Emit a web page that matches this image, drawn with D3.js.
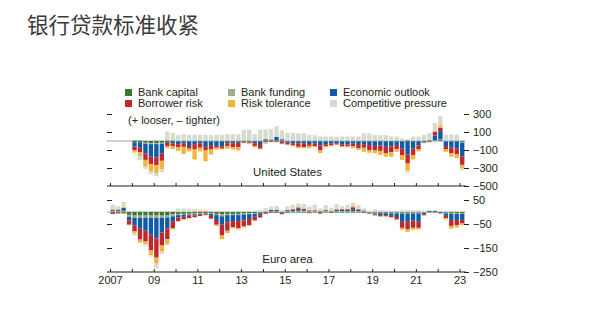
<!DOCTYPE html>
<html><head><meta charset="utf-8">
<script src="https://cdn.jsdelivr.net/npm/d3@7"></script>
<style>
html,body{margin:0;padding:0;background:#fff;}
svg{display:block;font-family:"Liberation Sans",Arial,sans-serif;}
</style></head><body><svg id="c" width="600" height="328"></svg>
<script>
const quarters = ["2007Q1","2007Q2","2007Q3","2007Q4","2008Q1","2008Q2","2008Q3","2008Q4","2009Q1","2009Q2","2009Q3","2009Q4",
"2010Q1","2010Q2","2010Q3","2010Q4","2011Q1","2011Q2","2011Q3","2011Q4","2012Q1","2012Q2","2012Q3","2012Q4",
"2013Q1","2013Q2","2013Q3","2013Q4","2014Q1","2014Q2","2014Q3","2014Q4","2015Q1","2015Q2","2015Q3","2015Q4",
"2016Q1","2016Q2","2016Q3","2016Q4","2017Q1","2017Q2","2017Q3","2017Q4","2018Q1","2018Q2","2018Q3","2018Q4",
"2019Q1","2019Q2","2019Q3","2019Q4","2020Q1","2020Q2","2020Q3","2020Q4","2021Q1","2021Q2","2021Q3","2021Q4",
"2022Q1","2022Q2","2022Q3","2022Q4","2023Q1"];

const seriesNames = ["Bank capital","Bank funding","Economic outlook","Borrower risk","Risk tolerance","Competitive pressure"];
const seriesColors = ["#3f7534","#9cae8c","#0d5caa","#c2262e","#f4b43a","#d7dad0"];

// United States (index 0..64, null = no data)
const usBankCapital = [null,null,null,null,-15,-15,-20,-25,-25,-20,-10,-10,-5,-5,-5,-5,-5,-5,-5,-5,-5,-5,-5,-5,-5,-5,-5,-5,-5,-5,-5,-5,-5,-5,-5,-5,-5,-5,-5,-5,-5,-5,-5,-5,-5,-5,-5,-5,-5,-5,-5,-5,-5,-5,-10,-5,-5,-5,-5,5,10,-5,-5,-5,-10];
const usBankFunding = [null,null,null,null,10,10,-10,-10,-10,-10,10,10,5,5,5,5,5,5,5,5,5,5,5,5,5,5,5,5,5,5,5,5,5,5,5,5,5,5,5,5,5,5,5,5,5,5,5,5,5,5,5,5,5,5,15,5,5,5,5,5,10,5,5,5,-10];
const usEconomicOutlook = [null,null,null,null,-45,-60,-110,-140,-150,-110,-10,-20,-30,-20,-50,-30,-20,-60,-40,-50,-55,-20,-20,-15,-5,-10,-20,-40,15,10,40,15,-15,-20,-25,-20,-30,-25,-45,-30,-25,-20,-30,-35,-25,-40,-30,-40,-50,-45,-60,-55,-40,-80,-140,-80,-45,-10,5,50,90,-50,-70,-80,-150];
const usBorrowerRisk = [null,null,null,null,-40,-50,-70,-80,-85,-80,-35,-30,-35,-40,-30,-60,-50,-40,-50,-20,-25,-30,-45,-50,-10,-10,-30,-40,-10,-5,-5,-25,-20,-25,-35,-45,-20,-30,-55,-25,-20,-15,-25,-20,-30,-35,-40,-55,-50,-60,-70,-65,-45,-75,-100,-70,-40,-5,-5,40,35,-40,-60,-60,-95];
const usRiskTolerance = [null,null,null,null,-25,-45,-70,-85,-90,-95,-25,-30,-40,-80,-30,-110,-40,-120,-55,-20,-10,-30,-25,-35,-5,-10,-15,-10,-15,10,-5,-5,-5,-10,-15,-10,-25,-10,-30,-10,-10,-5,-10,-10,-20,-20,-45,-30,-30,-45,-40,-50,-30,-50,-80,-50,-25,-5,-5,10,30,-25,-40,-45,-35];
const usCompetitivePressure = [null,null,null,null,-15,-40,-30,-30,-30,-30,95,80,60,70,60,65,65,65,60,65,65,70,70,70,120,120,70,120,110,110,120,100,85,85,80,80,60,60,45,45,45,45,45,45,45,45,80,80,60,60,60,45,45,25,-20,45,45,65,80,90,100,65,65,65,-25];

// Euro area
const euBankCapital = [-3,-3,-3,-12,-15,-15,-15,-15,-15,-15,-15,-10,-8,-8,-7,-6,-5,-5,-5,-8,-10,-8,-8,-8,-6,-5,-5,-3,-2,-2,-2,-2,-2,-2,-2,-2,-2,-2,-2,-2,-2,-2,-2,-2,-2,-2,-2,-2,-3,-3,-3,-3,-3,-3,-3,-3,-3,-2,-1,-1,-1,-3,-4,-4,-4];
const euBankFunding = [5,5,5,-8,-10,-10,-8,-10,-10,-10,-8,-8,-5,-4,-3,-3,-2,-2,-3,-5,-8,-5,-5,-5,-4,-4,-3,-2,2,3,3,2,4,4,5,5,4,4,3,4,3,4,4,4,4,4,3,-2,-3,-2,-2,-3,-3,-3,-3,-3,-3,-2,1,1,1,-3,-4,-4,-4];
const euEconomicOutlook = [5,5,12,-15,-30,-45,-55,-70,-85,-60,-45,-20,-10,-8,-5,-5,-4,-2,-8,-20,-35,-30,-25,-25,-25,-20,-12,-8,-3,6,6,-3,4,5,8,3,3,2,2,3,-2,5,5,6,8,6,3,-2,-5,-8,-8,-10,-15,-35,-35,-30,-35,-6,4,4,-3,-10,-25,-25,-25];
const euBorrowerRisk = [-5,-3,-3,-18,-25,-45,-45,-65,-80,-55,-45,-30,-15,-10,-10,-8,-6,-4,-12,-20,-45,-35,-25,-30,-25,-25,-15,-10,-3,-2,-2,-4,-2,3,6,5,-3,2,-5,2,2,2,3,2,8,2,-2,-2,-3,-5,-5,-6,-10,-25,-30,-30,-25,-4,-1,-1,-2,-10,-25,-22,-15];
const euRiskTolerance = [3,3,5,-2,-8,-10,-12,-20,-25,-25,-20,-5,-2,-2,-2,3,3,5,-2,-5,-15,-10,-5,-5,-5,-4,-3,-1,2,2,2,-2,2,2,2,2,2,2,-2,2,1,2,2,2,4,2,1,1,2,-2,-1,-2,-3,-8,-12,-8,-6,-1,1,0,1,-5,-12,-10,-7];
const euCompetitivePressure = [18,12,20,0,-10,-5,-5,-5,-20,-10,-5,0,15,15,14,10,8,5,0,0,0,0,0,0,0,0,0,8,12,12,14,5,14,16,14,18,14,20,10,18,12,20,10,16,14,14,8,2,10,8,7,0,5,8,8,8,8,5,3,2,2,5,5,5,4];

const usTicks = [300, 100, -100, -300, -500];
const euTicks = [50, -50, -150, -250];
const yearTicks = [2007,2008,2009,2010,2011,2012,2013,2014,2015,2016,2017,2018,2019,2020,2021,2022,2023];
const yearLabels = ["2007","09","11","13","15","17","19","21","23"];
const yearLabelValues = [2007,2009,2011,2013,2015,2017,2019,2021,2023];

const keys = ["cap","fund","outl","borr","tol","comp"];
const svg = d3.select("#c");
const ink = "#231f20";

function qTime(q){ return +q.slice(0,4) + (+q.slice(5)-1)/4; }

const x = d3.scaleLinear().domain([2007, 2023.25]).range([110, 465]);

// Title
svg.append("text").attr("x", 27).attr("y", 33)
  .attr("font-family", "'Noto Sans CJK SC', sans-serif").attr("font-size", 21.5)
  .attr("fill", "#3a3a3a").text("银行贷款标准收紧");

// Legend
const legendLayout = [
  {i:0, col:0, row:0},{i:1, col:1, row:0},{i:2, col:2, row:0},
  {i:3, col:0, row:1},{i:4, col:1, row:1},{i:5, col:2, row:1}];
const colX = [125, 228, 330];
const rowY = [89, 100];
const lg = svg.append("g");
legendLayout.forEach(d => {
  lg.append("rect").attr("x", colX[d.col]).attr("y", rowY[d.row]).attr("width", 7).attr("height", 7)
    .attr("fill", seriesColors[d.i]);
  lg.append("text").attr("x", colX[d.col] + 13).attr("y", rowY[d.row] + 6.8)
    .attr("font-size", 11).attr("fill", ink).text(seriesNames[d.i]);
});

function panel(opts){
  const {data, yDomain, yRange, ticks} = opts;
  const y = d3.scaleLinear().domain(yDomain).range(yRange);
  const g = svg.append("g");
  // zero line
  g.append("line").attr("x1", 107).attr("x2", 465).attr("y1", y(0)).attr("y2", y(0))
    .attr("stroke", "#8a8a8a").attr("stroke-width", 0.8);
  const stack = d3.stack().keys(keys).offset(d3.stackOffsetDiverging);
  const series = stack(data);
  series.forEach((s, si) => {
    g.append("g").attr("fill", seriesColors[si]).selectAll("rect").data(s).join("rect")
      .attr("x", d => x(d.data.t) + 0.5)
      .attr("width", d => x(d.data.t + 0.25) - x(d.data.t) - 1.1)
      .attr("y", d => y(Math.max(d[0], d[1])))
      .attr("height", d => Math.abs(y(d[0]) - y(d[1])));
  });
  // right axis
  const ra = g.append("g").attr("transform", `translate(464,0)`)
    .call(d3.axisRight(y).tickValues(ticks).tickSize(5).tickPadding(4)
      .tickFormat(d => d < 0 ? "\u2212" + Math.abs(d) : String(d)));
  ra.select(".domain").remove();
  ra.selectAll("line").attr("stroke", ink);
  ra.selectAll("text").attr("font-size", 11).attr("fill", ink).attr("font-family", "'Liberation Sans', Arial, sans-serif");
  // left ticks
  const la = g.append("g").attr("transform", `translate(107,0)`)
    .call(d3.axisRight(y).tickValues(ticks.slice(0, -1)).tickSize(5).tickFormat(""));
  la.select(".domain").remove();
  la.selectAll("line").attr("stroke", ink);
  // x axis line and year ticks
  const base = yRange[0];
  g.append("line").attr("x1", 107).attr("x2", 466).attr("y1", base).attr("y2", base)
    .attr("stroke", ink).attr("stroke-width", 1);
  const xa = g.append("g").attr("transform", `translate(0,${base})`)
    .call(d3.axisBottom(x).tickValues(yearTicks).tickSize(-3).tickFormat(""));
  xa.select(".domain").remove();
  xa.selectAll("line").attr("stroke", ink);
  return {g, y};
}

function buildRows(arrs){
  return quarters.map((q, i) => ({
    t: qTime(q),
    cap: arrs[0][i], fund: arrs[1][i], outl: arrs[2][i], borr: arrs[3][i], tol: arrs[4][i], comp: arrs[5][i]
  })).filter(d => d.cap !== null);
}

const usRows = buildRows([usBankCapital, usBankFunding, usEconomicOutlook, usBorrowerRisk, usRiskTolerance, usCompetitivePressure]);
const euRows = buildRows([euBankCapital, euBankFunding, euEconomicOutlook, euBorrowerRisk, euRiskTolerance, euCompetitivePressure]);

panel({data: usRows, yDomain: [-500, 300], yRange: [186, 114], ticks: usTicks});
panel({data: euRows, yDomain: [-250, 50], yRange: [272, 200], ticks: euTicks});

// Annotations
svg.append("text").attr("x", 128).attr("y", 124).attr("font-size", 11).attr("fill", ink)
  .text("(+ looser, \u2013 tighter)");
svg.append("text").attr("x", 287.5).attr("y", 176).attr("text-anchor", "middle")
  .attr("font-size", 11.5).attr("fill", ink).text("United States");
svg.append("text").attr("x", 287.5).attr("y", 263).attr("text-anchor", "middle")
  .attr("font-size", 11.5).attr("fill", ink).text("Euro area");

// Year labels
const yl = svg.append("g").attr("transform", "translate(0,272)")
  .call(d3.axisBottom(x).tickValues(yearLabelValues).tickSize(0).tickPadding(4)
    .tickFormat((d, i) => yearLabels[i]));
yl.select(".domain").remove();
yl.selectAll("text").attr("font-size", 11).attr("fill", ink).attr("font-family", "'Liberation Sans', Arial, sans-serif");
</script></body></html>
